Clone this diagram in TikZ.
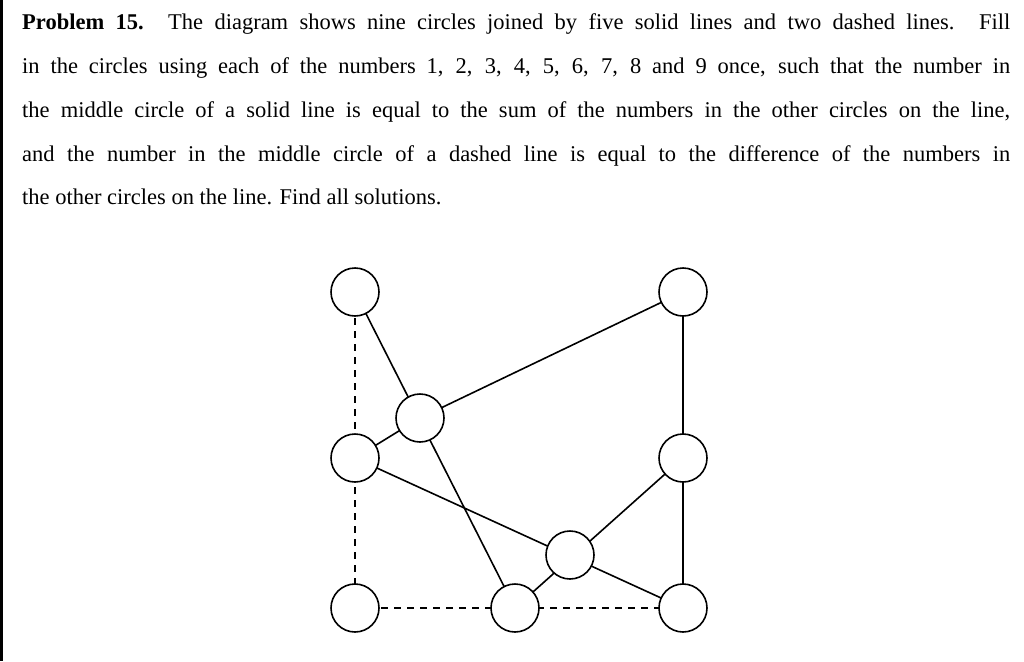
\documentclass[tikz,border=0pt]{standalone}
\usepackage{fontspec}
\setmainfont{Liberation Serif}
\begin{document}
\begin{tikzpicture}[x=1pt,y=-1pt,
  circ/.style={circle,draw,line width=1.6pt,minimum size=48pt,inner sep=0pt,fill=white},
  sol/.style={line width=1.6pt},
  dsh/.style={line width=1.6pt,dash pattern=on 7pt off 6pt},
  txt/.style={anchor=north west,inner sep=0pt,font=\fontsize{22.5}{24}\selectfont}]
\useasboundingbox (0,0) rectangle (1024,661);
\draw[line width=3pt] (1,0) -- (1,661);
\node[txt] (l1) at (22,13) {\makebox[988pt][s]{\textbf{Problem 15.} The diagram shows nine circles joined by five solid lines and two dashed lines. Fill}};
\node[txt] (l2) at (22,57) {\makebox[988pt][s]{in the circles using each of the numbers 1, 2, 3, 4, 5, 6, 7, 8 and 9 once, such that the number in}};
\node[txt] (l3) at (22,101) {\makebox[988pt][s]{the middle circle of a solid line is equal to the sum of the numbers in the other circles on the line,}};
\node[txt] (l4) at (22,145) {\makebox[988pt][s]{and the number in the middle circle of a dashed line is equal to the difference of the numbers in}};
\node[txt] (l5) at (22,189) {the other circles on the line. Find all solutions.};
\coordinate (pA) at (355,292); \coordinate (pB) at (683,292);
\coordinate (pC) at (420,418); \coordinate (pD) at (355,458);
\coordinate (pE) at (683,458); \coordinate (pF) at (570,555);
\coordinate (pG) at (355,608); \coordinate (pH) at (515,608);
\coordinate (pI) at (683,608);
\draw[sol] (pA) -- (pH);
\draw[sol] (pB) -- (pC) -- (pD);
\draw[sol] (pD) -- (pI);
\draw[sol] (pH) -- (pE);
\draw[sol] (pB) -- (pI);
\draw[dsh] (pA) -- (pG);
\draw[dsh] (pG) -- (pI);
\foreach \n in {A,B,C,D,E,F,G,H,I} \node[circ] (\n) at (p\n) {};
\end{tikzpicture}
\end{document}
